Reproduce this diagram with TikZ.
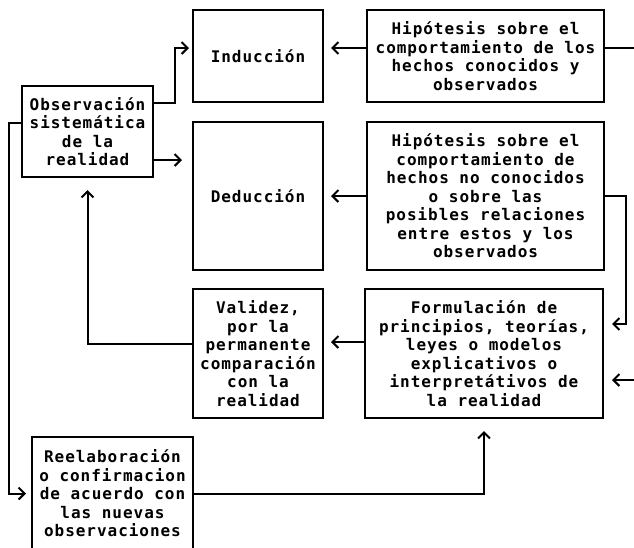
\documentclass[tikz,border=0pt]{standalone}
\usepackage{fontspec}
\newfontfamily\puntos[LetterSpace=6]{DejaVu Sans Mono Bold}
\usetikzlibrary{arrows.meta}

\begin{document}
\begin{tikzpicture}[x=1pt, y=-1pt,
	caja/.style={draw, line width=2pt, align=center, inner sep=2pt,
		font=\puntos\fontsize{16}{18.5}\selectfont},
	flecha/.style={line width=2pt, -{Straight Barb[length=6pt,width=12pt]}}]
		\useasboundingbox (0,0) rectangle (634,547);
		\clip (0,0) rectangle (634,547);
		
		% Cajas
		\node[caja, minimum width=131pt, minimum height=91pt] (obs) at (87.5,131.5)
			{Observación\\sistemática\\de la\\realidad};
		\node[caja, minimum width=130pt, minimum height=92pt] (ind) at (258,56) {Inducción};
		\node[caja, minimum width=130pt, minimum height=148pt] (ded) at (258,196) {Deducción};
		\node[caja, minimum width=237pt, minimum height=92pt] (hip1) at (485.5,56)
			{Hipótesis sobre el\\comportamiento de los\\hechos conocidos y\\observados};
		\node[caja, minimum width=237pt, minimum height=148pt] (hip2) at (485.5,196)
			{Hipótesis sobre el\\comportamiento de\\hechos no conocidos\\o sobre las\\posibles relaciones\\entre estos y los\\observados};
		\node[caja, minimum width=130pt, minimum height=129pt] (val) at (258,353.5)
			{Validez,\\por la\\permanente\\comparación\\con la\\realidad};
		\node[caja, minimum width=238pt, minimum height=129pt] (form) at (484,353.5)
			{Formulación de\\principios, teorías,\\leyes o modelos\\explicativos o\\interpretátivos de\\la realidad};
		\node[caja, minimum width=161pt, minimum height=113pt] (reel) at (112.5,493.5)
			{Reelaboración\\o confirmacion\\de acuerdo con\\las nuevas\\observaciones};
		
		% Puntos de salida
		\coordinate (o1) at ([yshift=28.5pt]obs.east);
		\coordinate (o2) at ([yshift=-28.5pt]obs.east);
		\coordinate (o3) at ([yshift=8.5pt]obs.west);
		\coordinate (h1) at ([yshift=8pt]hip1.west);
		\coordinate (h1r) at ([yshift=8pt]hip1.east);
		\coordinate (f1) at ([yshift=11.5pt]form.west);
		\coordinate (v1) at ([yshift=10pt]val.west);
		
		% Flechas
		\draw[flecha, shorten >=3pt] (o1) -- ++(21,0) |- ([yshift=8pt]ind.west);
		\draw[flecha, shorten >=10pt] (o2) -- (o2 -| ded.west);
		\draw[flecha, shorten >=7pt] (h1) -- (h1 -| ind.east);
		\draw[flecha, shorten >=7pt] (hip2.west) -- (ded.east);
		\draw[flecha, shorten >=8pt] (h1r) -- ++(45,0) |- ([yshift=-26.5pt]form.east);
		\draw[flecha, shorten >=8pt] (hip2.east) -- ++(21,0) |- ([yshift=29.5pt]form.east);
		\draw[flecha, shorten >=7pt] (f1) -- (f1 -| val.east);
		\draw[flecha, shorten >=12pt] (v1) -| (obs.south);
		\draw[flecha, shorten >=5pt] (o3) -- ++(-12,0) |- (reel.west);
		\draw[flecha, shorten >=12pt] (reel.east) -| (form.south);
	\end{tikzpicture}
\end{document}
